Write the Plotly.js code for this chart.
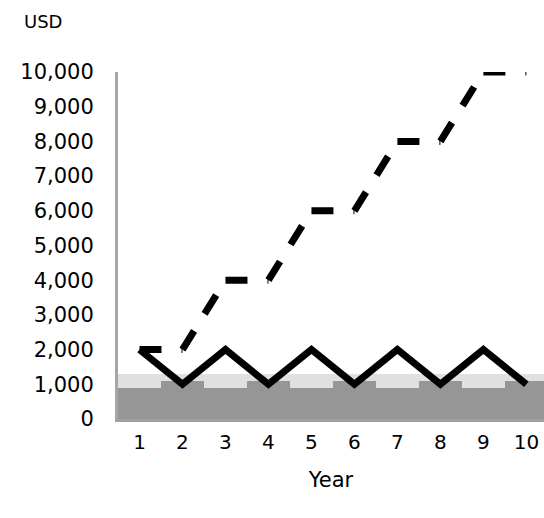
<!DOCTYPE html>
<html>
<head>
<meta charset="utf-8">
<script src="https://cdn.plot.ly/plotly-3.0.1.min.js"></script>
<style>html,body{margin:0;padding:0;background:#fff;overflow:hidden}</style>
</head>
<body>
<div id="chart" style="width:544px;height:518px"></div>
<script>
const years = [1, 2, 3, 4, 5, 6, 7, 8, 9, 10];
const dashedSeries = [2000, 2000, 4000, 4000, 6000, 6000, 8000, 8000, 10000, 10000];
const solidSeries = [2000, 1000, 2000, 1000, 2000, 1000, 2000, 1000, 2000, 1000];
const lightBand = [1300, 1300, 1300, 1300, 1300, 1300, 1300, 1300, 1300, 1300];
const darkBand = [900, 1100, 900, 1100, 900, 1100, 900, 1100, 900, 1100];
const yTicks = [0, 1000, 2000, 3000, 4000, 5000, 6000, 7000, 8000, 9000, 10000];

const traces = [];
traces.push({type: 'bar', x: years, y: lightBand, width: 1, marker: {color: '#e0e0e0', line: {width: 0}}, hoverinfo: 'skip'});
traces.push({type: 'bar', x: years, y: darkBand, width: 1, marker: {color: '#969696', line: {width: 0}}, hoverinfo: 'skip'});
traces.push({type: 'scatter', mode: 'lines', x: years, y: solidSeries, line: {color: '#000', width: 7}});
for (let i = 0; i < years.length - 1; i++) {
  traces.push({type: 'scatter', mode: 'lines', x: [years[i], years[i + 1]], y: [dashedSeries[i], dashedSeries[i + 1]],
    line: {color: '#000', width: 7, dash: '22px,20px'}});
}

const layout = {
  width: 544, height: 518,
  margin: {l: 118, r: 0, t: 72, b: 99},
  paper_bgcolor: '#fff', plot_bgcolor: '#fff',
  showlegend: false,
  barmode: 'overlay', bargap: 0,
  font: {family: 'DejaVu Sans', color: '#000', size: 21},
  xaxis: {
    range: [0.5, 10.41], tickvals: years, ticktext: years.map(String),
    showgrid: false, zeroline: false, showline: true, linecolor: '#a0a0a0', linewidth: 3,
    ticks: '', ticklabelstandoff: 3, tickfont: {size: 20},
    title: {text: 'Year', font: {size: 21}, standoff: 20}
  },
  yaxis: {
    range: [0, 10000], tickvals: yTicks, ticktext: yTicks.map(v => v.toLocaleString('en-US')),
    showgrid: false, zeroline: false, showline: true, linecolor: '#a6a6a6', linewidth: 3,
    ticks: '', ticklabelstandoff: 17, tickfont: {size: 21}
  },
  annotations: [
    {text: 'USD', xref: 'paper', yref: 'paper', x: -0.226, y: 1.145, xanchor: 'left', yanchor: 'middle', showarrow: false, font: {size: 18}}
  ]
};
Plotly.newPlot('chart', traces, layout, {displayModeBar: false, staticPlot: true});
</script>
</body>
</html>
